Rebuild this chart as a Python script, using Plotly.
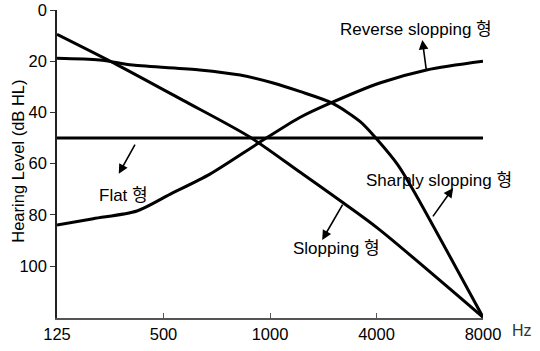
import plotly.graph_objects as go

# x positions on the (evenly spaced) frequency axis: 0=125, 1=500, 2=1000, 3=4000, 4=8000 Hz
tick_pos = [0, 1, 2, 3, 4]
tick_labels = ["125", "500", "1000", "4000", "8000"]
y_ticks = [0, 20, 40, 60, 80, 100]

flat_x = [0, 4]
flat_y = [50, 50]

slop_x = [0, 0.57, 1.18, 1.81, 2.28, 2.69, 3.01, 4.0]
slop_y = [9.5, 21.5, 35.2, 49.6, 63.3, 75.4, 85.2, 120]

rev_x = [0, 0.34, 0.75, 1.06, 1.44, 1.91, 2.28, 2.56, 3.03, 3.47, 4.0]
rev_y = [84, 81.5, 78.5, 72, 64, 51.5, 42, 36.5, 28.5, 23.4, 20]

sharp_x = [0, 0.40, 0.71, 1.34, 1.72, 2.03, 2.28, 2.58, 2.85, 3.01, 3.20, 3.34, 4.0]
sharp_y = [18.8, 19.5, 21.5, 23.4, 25.4, 28.5, 31.8, 36.3, 43.7, 50.8, 60.5, 70, 120]

FONT = "Liberation Sans, Arial, Noto Sans CJK KR, sans-serif"

fig = go.Figure()
for xs, ys in [(flat_x, flat_y), (slop_x, slop_y), (rev_x, rev_y), (sharp_x, sharp_y)]:
    fig.add_trace(go.Scatter(x=xs, y=ys, mode="lines", line=dict(color="black", width=3, shape="spline", smoothing=0.8),
                             cliponaxis=False, showlegend=False, hoverinfo="skip"))

labels = [
    ("Reverse slopping 형", 3.37, 7.8),
    ("Flat 형", 0.62, 72.3),
    ("Sharply slopping 형", 3.59, 66.4),
    ("Slopping 형", 2.62, 93),
]
for t, x, y in labels:
    fig.add_annotation(x=x, y=y, text=t, showarrow=False, font=dict(family=FONT, size=17, color="black"),
                       xanchor="center", yanchor="middle")

arrows = [
    (3.43, 11.7, 3.47, 24.2),
    (0.58, 64, 0.74, 52),
    (3.72, 69.5, 3.52, 81.2),
    (2.49, 89.8, 2.69, 75.4),
]
for hx, hy, tx, ty in arrows:
    fig.add_annotation(x=hx, y=hy, ax=tx, ay=ty, axref="x", ayref="y", text="", showarrow=True,
                       arrowhead=2, arrowsize=1.2, arrowwidth=1.6, arrowcolor="black")

fig.add_annotation(xref="paper", yref="paper", x=1.0915, y=-0.039, text="Hz", showarrow=False,
                   font=dict(family=FONT, size=16, color="#333"), xanchor="center", yanchor="middle")
fig.add_annotation(xref="paper", yref="paper", x=-0.092, y=0.51, text="Hearing Level (dB HL)", textangle=-90,
                   showarrow=False, font=dict(family=FONT, size=16.5, color="black"), xanchor="center", yanchor="middle")

fig.update_xaxes(range=[0, 4], tickvals=tick_pos, ticktext=tick_labels, ticks="inside", ticklen=5,
                 tickcolor="#555", tickwidth=1, showline=True, linecolor="#555", linewidth=1.5, automargin=False,
                 showgrid=False, zeroline=False, tickfont=dict(family=FONT, size=16.5, color="black"))
fig.update_yaxes(range=[120.3, 0], tickvals=y_ticks, ticks="outside", ticklen=5, automargin=False,
                 tickcolor="#333", tickwidth=1, showline=True, linecolor="#222", linewidth=1.5,
                 showgrid=False, zeroline=False, tickfont=dict(family=FONT, size=16.5, color="black"))
fig.update_layout(width=540, height=351, margin=dict(l=57, r=57, t=10, b=33),
                  plot_bgcolor="white", paper_bgcolor="white")
fig.write_html("out.html")
